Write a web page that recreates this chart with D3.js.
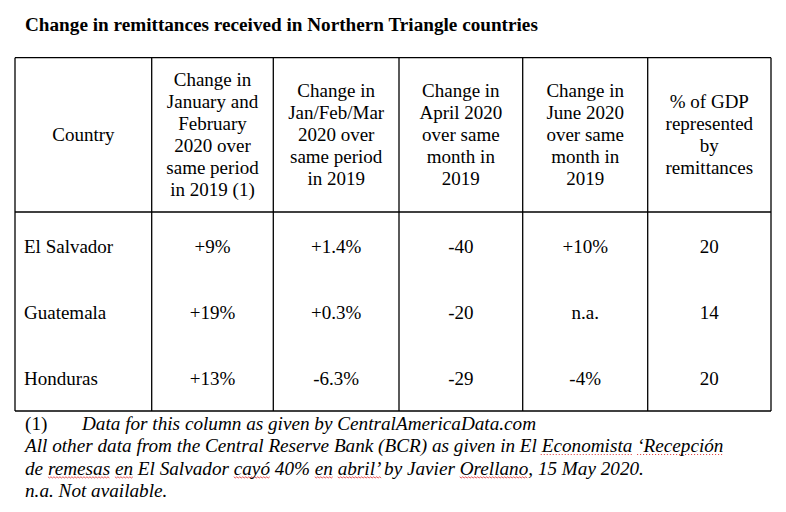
<!DOCTYPE html>
<html lang="en">
<head>
<meta charset="UTF-8">
<title>Change in remittances received in Northern Triangle countries</title>
<script src="https://d3js.org/d3.v7.min.js"></script>
<style>
  body { margin: 0; background: #fff; }
  text { font-family: "Liberation Serif", "Times New Roman", serif; fill: #000; }
</style>
</head>
<body>
<svg width="786" height="512"></svg>
<script>
const title = "Change in remittances received in Northern Triangle countries";

const headers = [
  ["Country"],
  ["Change in", "January and", "February", "2020 over", "same period", "in 2019 (1)"],
  ["Change in", "Jan/Feb/Mar", "2020 over", "same period", "in 2019"],
  ["Change in", "April 2020", "over same", "month in", "2019"],
  ["Change in", "June 2020", "over same", "month in", "2019"],
  ["% of GDP", "represented", "by", "remittances"]
];

const countries = ["El Salvador", "Guatemala", "Honduras"];
const janFeb = ["+9%", "+19%", "+13%"];
const janFebMar = ["+1.4%", "+0.3%", "-6.3%"];
const april = ["-40", "-20", "-29"];
const june = ["+10%", "n.a.", "-4%"];
const gdpShare = ["20", "14", "20"];

// footnote lines, split where the spellcheck marks fall
// mark: 0 none, 1 wavy, 2 dotted
const notes = [
  [["(1)", 0, "normal"]],
  [["All other data from the Central Reserve Bank (BCR) as given in El ", 0], ["Economista", 2], [" ", 0], ["\u2018Recepción", 2]],
  [["de ", 0], ["remesas", 1], [" ", 0], ["en", 1], [" El Salvador ", 0], ["cayó", 1], [" 40% ", 0], ["en", 1], [" ", 0], ["abril\u2019", 1], [" by Javier ", 0], ["Orellano", 1], [", 15 May 2020.", 0]],
  [["n.a. Not available.", 0]]
];
const note1Text = "Data for this column as given by CentralAmericaData.com";

const rows = countries.map((c, i) => [c, janFeb[i], janFebMar[i], april[i], june[i], gdpShare[i]]);

const svg = d3.select("svg");
const fs = 19;
const noteFs = "19.2px";

svg.append("text")
  .attr("x", 25).attr("y", 31)
  .style("font-size", "19.2px").style("font-weight", "bold")
  .text(title);

// column edges and row bands
const colEdges = [15, 151.7, 273.3, 399, 522.7, 647.7, 771];
const tableTop = 57.7, headBottom = 212, tableBottom = 411;
const y = d3.scaleBand().domain(countries).range([headBottom, tableBottom]);

const grid = svg.append("g").attr("stroke", "#000").attr("stroke-width", 1.3);
grid.selectAll("line.v").data(colEdges).join("line")
  .attr("class", "v")
  .attr("x1", d => d).attr("x2", d => d)
  .attr("y1", tableTop).attr("y2", tableBottom);
grid.selectAll("line.h").data([tableTop, headBottom, tableBottom]).join("line")
  .attr("class", "h")
  .attr("x1", colEdges[0]).attr("x2", colEdges[colEdges.length - 1])
  .attr("y1", d => d).attr("y2", d => d);

const colCenter = i => (colEdges[i] + colEdges[i + 1]) / 2;
const lineH = 22;
const headMid = (tableTop + headBottom) / 2 - 0.5;

// header cells
headers.forEach((lines, i) => {
  const t = svg.append("text")
    .attr("text-anchor", "middle")
    .style("font-size", fs + "px");
  const y0 = headMid - (lines.length - 1) * lineH / 2;
  lines.forEach((l, k) => {
    t.append("tspan")
      .attr("x", colCenter(i))
      .attr("y", y0 + k * lineH)
      .attr("dy", "0.35em")
      .text(l);
  });
});

// body cells
rows.forEach((r, ri) => {
  const cy = y(countries[ri]) + y.bandwidth() / 2 + 1;
  r.forEach((v, ci) => {
    svg.append("text")
      .attr("x", ci === 0 ? 24 : colCenter(ci))
      .attr("y", cy)
      .attr("dy", "0.35em")
      .attr("text-anchor", ci === 0 ? "start" : "middle")
      .style("font-size", fs + "px")
      .text(v);
  });
});

// footnotes
const noteY = [423, 445.5, 468, 490.5];
const marks = svg.append("g").attr("fill", "none");
notes.forEach((segs, li) => {
  const t = svg.append("text")
    .attr("x", 25).attr("y", noteY[li]).attr("dy", "0.35em")
    .style("font-size", noteFs).style("font-style", "italic");
  segs.forEach(s => {
    const sp = t.append("tspan").text(s[0]);
    if (s[2]) sp.style("font-style", s[2]);
    if (s[1]) {
      const b = sp.node().getBBox();
      const yy = noteY[li] + 9;
      if (s[1] === 1) {
        const pts = [];
        for (let x = b.x; x <= b.x + b.width; x += 1.5) pts.push([x, yy + (Math.round((x - b.x) / 1.5) % 2 ? 1 : -0.2)]);
        marks.append("path").attr("d", d3.line()(pts))
          .attr("stroke", "#e03030").attr("stroke-width", 0.8);
      } else {
        marks.append("line")
          .attr("x1", b.x).attr("x2", b.x + b.width)
          .attr("y1", yy).attr("y2", yy)
          .attr("stroke", "#e03030").attr("stroke-width", 1)
          .attr("stroke-dasharray", "1,2");
      }
    }
  });
  if (li === 0) {
    svg.append("text")
      .attr("x", 82).attr("y", noteY[0]).attr("dy", "0.35em")
      .style("font-size", noteFs).style("font-style", "italic")
      .text(note1Text);
  }
});
</script>
</body>
</html>
